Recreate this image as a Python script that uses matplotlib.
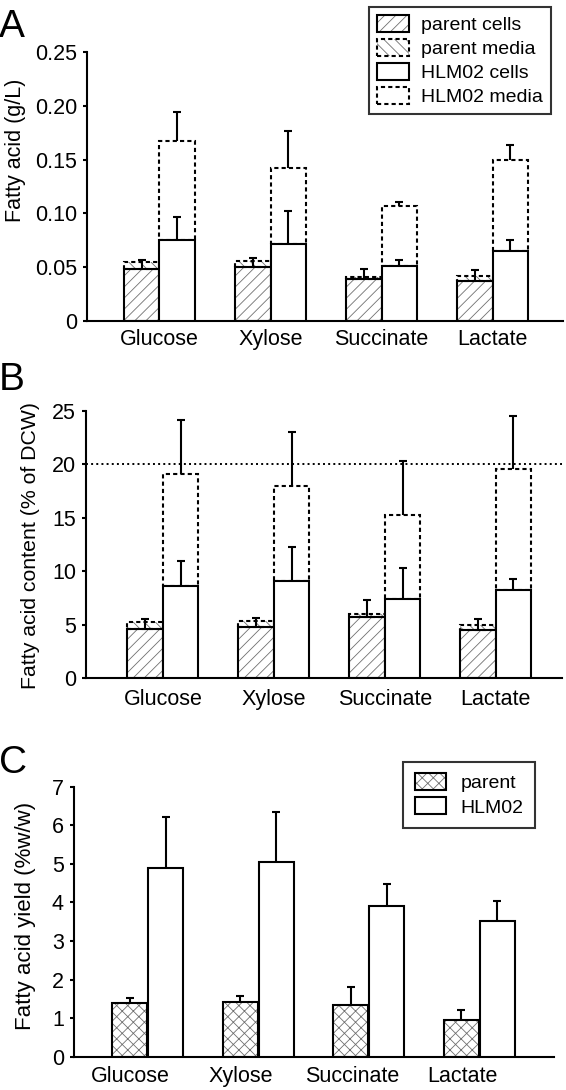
import matplotlib
matplotlib.use("Agg")
import matplotlib.pyplot as plt
import numpy as np
from matplotlib.patches import Patch

plt.rcParams['font.family'] = ['Liberation Sans', 'DejaVu Sans']
plt.rcParams['hatch.linewidth'] = 0.6

# ---------------- data ----------------
categories = ['Glucose', 'Xylose', 'Succinate', 'Lactate']

# Panel A: fatty acid (g/L)
a_parent_cells = [0.048, 0.050, 0.039, 0.037]
a_parent_total = [0.055, 0.056, 0.041, 0.042]
a_parent_err = [0.009, 0.009, 0.009, 0.010]
a_hlm_cells = [0.075, 0.072, 0.051, 0.065]
a_hlm_cells_err = [0.022, 0.030, 0.006, 0.010]
a_hlm_total = [0.167, 0.142, 0.107, 0.150]
a_hlm_total_err = [0.027, 0.035, 0.004, 0.014]
a_yticks = [0, 0.05, 0.10, 0.15, 0.20, 0.25]
a_yticklabels = ['0', '0.05', '0.10', '0.15', '0.20', '0.25']

# Panel B: fatty acid content (% of DCW)
b_parent_cells = [4.6, 4.8, 5.7, 4.5]
b_parent_total = [5.3, 5.4, 6.0, 5.0]
b_parent_err = [0.9, 0.8, 1.6, 1.0]
b_hlm_cells = [8.6, 9.1, 7.4, 8.3]
b_hlm_cells_err = [2.4, 3.2, 2.9, 1.0]
b_hlm_total = [19.1, 18.0, 15.3, 19.6]
b_hlm_total_err = [5.1, 5.0, 5.0, 4.9]
b_reference = 20
b_yticks = [0, 5, 10, 15, 20, 25]

# Panel C: fatty acid yield (%w/w)
c_parent = [1.38, 1.42, 1.34, 0.95]
c_parent_err = [0.15, 0.15, 0.46, 0.26]
c_hlm = [4.90, 5.05, 3.92, 3.53]
c_hlm_err = [1.32, 1.30, 0.55, 0.51]
c_yticks = [0, 1, 2, 3, 4, 5, 6, 7]

# ---------------- style ----------------
W, H = 566, 1090
fig = plt.figure(figsize=(W / 100, H / 100), dpi=100)

LW = 1.5
DASH = (0, (2.0, 1.5))
HATCH_GRAY = '#707070'
BW = 0.32
TICK_FS = 15.5
LEG_FS = 14


def px_axes(left, top, right, bottom):
    return fig.add_axes([left / W, 1 - bottom / H, (right - left) / W, (bottom - top) / H])


def style_axes(ax, xlim, ylim, yticks, yticklabels, tickpad_x, xshift=0.0):
    ax.set_xlim(*xlim)
    ax.set_ylim(*ylim)
    for s in ['top', 'right']:
        ax.spines[s].set_visible(False)
    for s in ['left', 'bottom']:
        ax.spines[s].set_linewidth(LW)
    ax.set_yticks(yticks)
    ax.set_yticklabels(yticklabels)
    x = np.arange(len(categories))
    ax.set_xticks(x + xshift)
    ax.set_xticklabels(categories)
    ax.tick_params(axis='y', direction='out', length=3, width=LW, pad=4, labelsize=TICK_FS)
    ax.tick_params(axis='x', length=0, pad=tickpad_x, labelsize=TICK_FS)


def hatched_bar(ax, x, h, bottom, hatch, ls='solid'):
    ax.bar(x, h, BW, bottom=bottom, color='white', edgecolor=HATCH_GRAY, hatch=hatch,
           linewidth=0, zorder=2)
    ax.bar(x, h, BW, bottom=bottom, fill=False, edgecolor='black', linewidth=LW,
           linestyle=ls, zorder=3)


def plain_bar(ax, x, h, bottom, ls='solid'):
    ax.bar(x, h, BW, bottom=bottom, color='white', edgecolor='black', linewidth=LW,
           linestyle=ls, zorder=3)


def up_err(ax, x, y, err):
    err = np.asarray(err)
    _, caps, _ = ax.errorbar(x, y, yerr=[np.zeros_like(err), err], fmt='none',
                             ecolor='black', elinewidth=LW, capsize=2.7, capthick=LW, zorder=4)
    caps[0].set_visible(False)


def stacked_panel(ax, p_cells, p_total, p_err, h_cells, h_cells_err, h_total, h_total_err):
    x = np.arange(len(categories))
    xp = x - BW / 2
    xh = x + BW / 2
    p_cells = np.asarray(p_cells); p_total = np.asarray(p_total)
    h_cells = np.asarray(h_cells); h_total = np.asarray(h_total)
    # media segments (stacked on cells)
    hatched_bar(ax, xp, p_total - p_cells, p_cells, '\\\\\\', ls=DASH)
    plain_bar(ax, xh, h_total - h_cells, h_cells, ls=DASH)
    # cells
    hatched_bar(ax, xp, p_cells, 0, '///')
    plain_bar(ax, xh, h_cells, 0)
    # error bars
    up_err(ax, xp, p_cells, p_err)
    up_err(ax, xh, h_cells, h_cells_err)
    up_err(ax, xh, h_total, h_total_err)


# ---------------- Panel A ----------------
axA = px_axes(87, 52, 563, 321)
stacked_panel(axA, a_parent_cells, a_parent_total, a_parent_err,
              a_hlm_cells, a_hlm_cells_err, a_hlm_total, a_hlm_total_err)
style_axes(axA, (-0.652, 3.633), (0, 0.25), a_yticks, a_yticklabels, tickpad_x=6)
axA.set_ylabel('Fatty acid (g/L)', fontsize=15.5)
axA.yaxis.set_label_coords(-0.129, 0.636)

legA_handles = [
    (Patch(facecolor='white', edgecolor=HATCH_GRAY, hatch='///', linewidth=0),
     Patch(fill=False, edgecolor='black', linewidth=LW)),
    (Patch(facecolor='white', edgecolor=HATCH_GRAY, hatch='\\\\\\', linewidth=0),
     Patch(fill=False, edgecolor='black', linewidth=LW, linestyle=DASH)),
    Patch(facecolor='white', edgecolor='black', linewidth=LW),
    Patch(facecolor='white', edgecolor='black', linewidth=LW, linestyle=DASH),
]
legA_labels = ['parent cells', 'parent media', 'HLM02 cells', 'HLM02 media']
legA = fig.legend(legA_handles, legA_labels, loc='upper right',
                  bbox_to_anchor=(551 / W, 1 - 7 / H), bbox_transform=fig.transFigure,
                  fontsize=LEG_FS, frameon=True, fancybox=False, borderaxespad=0,
                  handlelength=1.65, handleheight=0.95, handletextpad=0.63,
                  borderpad=0.4, labelspacing=0.26)
legA.get_frame().set_edgecolor('black')
legA.get_frame().set_linewidth(LW)

# ---------------- Panel B ----------------
axB = px_axes(85.9, 411, 561.6, 678.3)
stacked_panel(axB, b_parent_cells, b_parent_total, b_parent_err,
              b_hlm_cells, b_hlm_cells_err, b_hlm_total, b_hlm_total_err)
axB.axhline(b_reference, color='black', linestyle=':', linewidth=1.4, zorder=1)
style_axes(axB, (-0.695, 3.594), (0, 25), b_yticks, [str(t) for t in b_yticks], tickpad_x=8)
axB.set_ylabel('Fatty acid content (% of DCW)', fontsize=15.3)
axB.yaxis.set_label_coords(-0.097, 0.495)

# ---------------- Panel C ----------------
axC = px_axes(73.6, 786.7, 554.3, 1056.7)
xc = np.arange(len(categories))
hatched_bar(axC, xc - 0.163, c_parent, 0, 'xxx')
plain_bar(axC, xc + 0.163, c_hlm, 0)
up_err(axC, xc - 0.163, c_parent, c_parent_err)
up_err(axC, xc + 0.163, c_hlm, c_hlm_err)
style_axes(axC, (-0.671, 3.679), (0, 7), c_yticks, [str(t) for t in c_yticks],
           tickpad_x=7, xshift=-0.154)
axC.set_ylabel('Fatty acid yield (%w/w)', fontsize=16)
axC.yaxis.set_label_coords(-0.078, 0.521)

legC_handles = [
    (Patch(facecolor='white', edgecolor=HATCH_GRAY, hatch='xxx', linewidth=0),
     Patch(fill=False, edgecolor='black', linewidth=LW)),
    Patch(facecolor='white', edgecolor='black', linewidth=LW),
]
legC = fig.legend(legC_handles, ['parent', 'HLM02'], loc='upper right',
                  bbox_to_anchor=(535 / W, 1 - 761.7 / H), bbox_transform=fig.transFigure,
                  fontsize=LEG_FS, frameon=True, fancybox=False, borderaxespad=0,
                  handlelength=1.6, handleheight=0.95, handletextpad=0.75,
                  borderpad=0.6, labelspacing=0.26)
legC.get_frame().set_edgecolor('black')
legC.get_frame().set_linewidth(LW)

# ---------------- panel letters ----------------
for letter, base_y in [('A', 37), ('B', 390), ('C', 773)]:
    fig.text(-1 / W, 1 - base_y / H, letter, fontsize=28, va='baseline', ha='left')

fig.savefig('out.png', dpi=100)
